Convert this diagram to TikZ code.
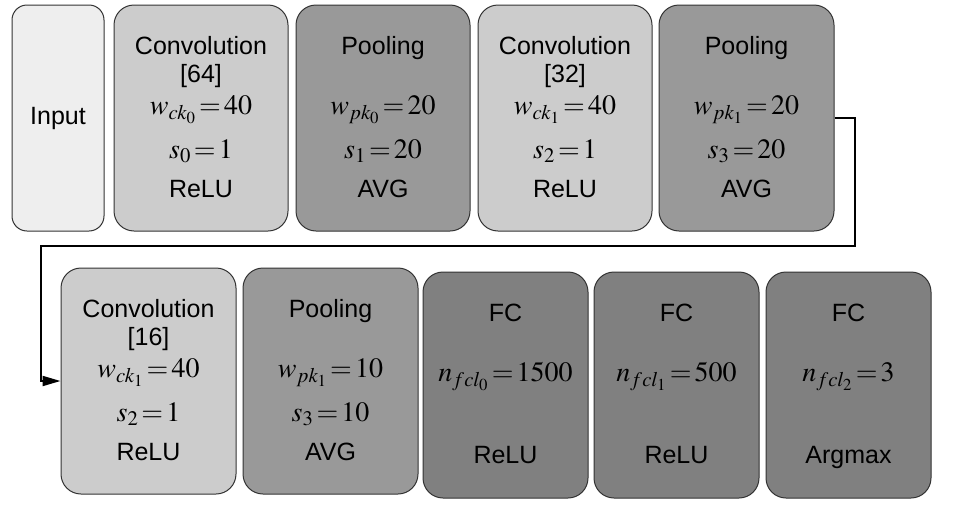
\documentclass[tikz,border=0pt]{standalone}
\usepackage{mathptmx}
\usepackage{fontspec}
\setmainfont{Liberation Sans}
\usetikzlibrary{positioning,arrows.meta}
\definecolor{inputgray}{HTML}{EEEEEE}
\definecolor{convgray}{HTML}{CCCCCC}
\definecolor{poolgray}{HTML}{999999}
\definecolor{fcgray}{HTML}{808080}
\definecolor{edgegray}{HTML}{333333}
\tikzset{
  layer/.style={draw=edgegray,line width=1pt,rounded corners=20pt,minimum height=226pt,inner sep=0pt},
  conv/.style={layer,fill=convgray,minimum width=174pt},
  pool/.style={layer,fill=poolgray,minimum width=174pt},
  fc/.style={layer,fill=fcgray,minimum width=165pt},
  lbl/.style={anchor=base,inner sep=0pt,font=\fontsize{25}{30}\selectfont},
  mlbl/.style={lbl,font=\fontsize{28}{32}\selectfont},
  link/.style={draw=black,line width=2pt,-{Triangle[length=18pt,width=10pt]}}
}
\newcommand{\eqsign}{\mkern2mu{=}\mkern2mu}
\begin{document}
\begin{tikzpicture}[x=1pt,y=-1pt]
    \useasboundingbox (0,0) rectangle (975,509);
    % first row
    \node[layer,fill=inputgray,minimum width=92pt,rounded corners=15pt] (in) at (58,118) {};
    \node[conv] (c0) at (201,118) {};
    \node[pool] (p0) at (383,118) {};
    \node[conv] (c1) at (565,118) {};
    \node[pool,minimum width=175pt] (p1) at (746.5,118) {};
    % second row
    \node[conv,minimum width=175pt] (c2) at (148.5,381) {};
    \node[pool,minimum width=175pt] (p2) at (330.5,381) {};
    \node[fc] (f0) at (505.5,385) {};
    \node[fc] (f1) at (676.5,385) {};
    \node[fc] (f2) at (848.5,385) {};
    % texts
    \node[lbl,anchor=center] (inT) at (in) {Input};
    \node[lbl] (c0a) at ([yshift=-50pt]c0.north) {Convolution};
    \node[lbl] (c0b) at ([yshift=-78pt]c0.north) {[64]};
    \node[mlbl] (c0c) at ([yshift=-110pt]c0.north) {$w_{ck_0}\eqsign40$};
    \node[mlbl] (c0d) at ([yshift=-154pt]c0.north) {$s_0\eqsign1$};
    \node[lbl] (c0e) at ([yshift=-193pt]c0.north) {ReLU};
    \node[lbl] (p0a) at ([yshift=-50pt]p0.north) {Pooling};
    \node[mlbl] (p0c) at ([yshift=-110pt]p0.north) {$w_{pk_0}\eqsign20$};
    \node[mlbl] (p0d) at ([yshift=-154pt]p0.north) {$s_1\eqsign20$};
    \node[lbl] (p0e) at ([yshift=-193pt]p0.north) {AVG};
    \node[lbl] (c1a) at ([yshift=-50pt]c1.north) {Convolution};
    \node[lbl] (c1b) at ([yshift=-78pt]c1.north) {[32]};
    \node[mlbl] (c1c) at ([yshift=-110pt]c1.north) {$w_{ck_1}\eqsign40$};
    \node[mlbl] (c1d) at ([yshift=-154pt]c1.north) {$s_2\eqsign1$};
    \node[lbl] (c1e) at ([yshift=-193pt]c1.north) {ReLU};
    \node[lbl] (p1a) at ([yshift=-50pt]p1.north) {Pooling};
    \node[mlbl] (p1c) at ([yshift=-110pt]p1.north) {$w_{pk_1}\eqsign20$};
    \node[mlbl] (p1d) at ([yshift=-154pt]p1.north) {$s_3\eqsign20$};
    \node[lbl] (p1e) at ([yshift=-193pt]p1.north) {AVG};
    \node[lbl] (c2a) at ([yshift=-50pt]c2.north) {Convolution};
    \node[lbl] (c2b) at ([yshift=-78pt]c2.north) {[16]};
    \node[mlbl] (c2c) at ([yshift=-110pt]c2.north) {$w_{ck_1}\eqsign40$};
    \node[mlbl] (c2d) at ([yshift=-154pt]c2.north) {$s_2\eqsign1$};
    \node[lbl] (c2e) at ([yshift=-193pt]c2.north) {ReLU};
    \node[lbl] (p2a) at ([yshift=-50pt]p2.north) {Pooling};
    \node[mlbl] (p2c) at ([yshift=-110pt]p2.north) {$w_{pk_1}\eqsign10$};
    \node[mlbl] (p2d) at ([yshift=-154pt]p2.north) {$s_3\eqsign10$};
    \node[lbl] (p2e) at ([yshift=-193pt]p2.north) {AVG};
    \node[lbl] (f0a) at ([yshift=-50pt]f0.north) {FC};
    \node[mlbl] (f0c) at ([yshift=-110pt]f0.north) {$n_{fcl_0}\eqsign1500$};
    \node[lbl] (f0e) at ([yshift=-192pt]f0.north) {ReLU};
    \node[lbl] (f1a) at ([yshift=-50pt]f1.north) {FC};
    \node[mlbl] (f1c) at ([yshift=-110pt]f1.north) {$n_{fcl_1}\eqsign500$};
    \node[lbl] (f1e) at ([yshift=-192pt]f1.north) {ReLU};
    \node[lbl] (f2a) at ([yshift=-50pt]f2.north) {FC};
    \node[mlbl] (f2c) at ([yshift=-110pt]f2.north) {$n_{fcl_2}\eqsign3$};
    \node[lbl] (f2e) at ([yshift=-192pt]f2.north) {Argmax};
    % row change
    \coordinate (bend1) at (855,246);
    \coordinate (bend2) at (41,246);
    \draw[link] (p1.east) -| (bend1) -- (bend2) |- (c2.west);
\end{tikzpicture}
\end{document}
